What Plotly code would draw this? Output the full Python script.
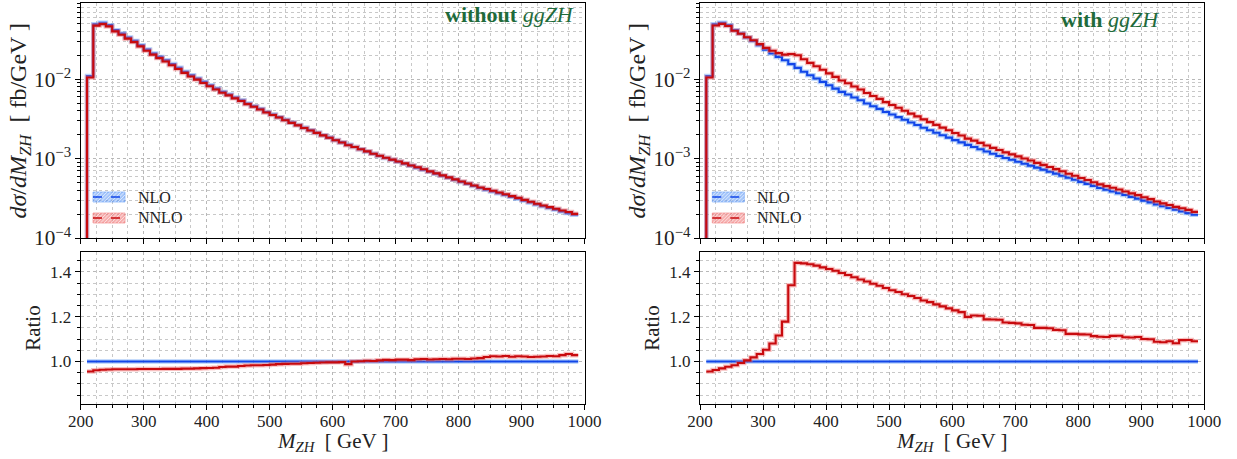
import plotly.graph_objects as go

# ---------------- data ----------------
bin_edges = list(range(210, 1000, 10))  # 10 GeV bins, 210 ... 990 GeV

# NLO dsigma/dM_ZH [fb/GeV] per bin (same NLO in both panels)
nlo = [
    1.10e-2, 4.93e-2, 5.13e-2, 4.80e-2, 4.15e-2, 3.77e-2, 3.36e-2, 3.04e-2, 2.68e-2, 2.36e-2,
    2.11e-2, 1.91e-2, 1.73e-2, 1.55e-2, 1.39e-2, 1.24e-2, 1.12e-2, 1.02e-2, 9.25e-3, 8.39e-3,
    7.62e-3, 6.92e-3, 6.41e-3, 5.88e-3, 5.43e-3, 4.94e-3, 4.57e-3, 4.23e-3, 3.87e-3, 3.59e-3,
    3.33e-3, 3.08e-3, 2.85e-3, 2.65e-3, 2.45e-3, 2.28e-3, 2.12e-3, 1.97e-3, 1.84e-3, 1.71e-3,
    1.60e-3, 1.49e-3, 1.40e-3, 1.31e-3, 1.23e-3, 1.15e-3, 1.08e-3, 1.02e-3, 9.66e-4, 9.12e-4,
    8.63e-4, 8.15e-4, 7.69e-4, 7.26e-4, 6.84e-4, 6.46e-4, 6.08e-4, 5.74e-4, 5.41e-4, 5.09e-4,
    4.81e-4, 4.53e-4, 4.27e-4, 4.06e-4, 3.85e-4, 3.66e-4, 3.48e-4, 3.30e-4, 3.13e-4, 2.96e-4,
    2.81e-4, 2.65e-4, 2.51e-4, 2.39e-4, 2.28e-4, 2.16e-4, 2.06e-4, 1.96e-4,
]

# NNLO / NLO, without ggZH
ratio_without = [
    0.955, 0.961, 0.963, 0.964, 0.965, 0.965, 0.965, 0.965, 0.966, 0.966,
    0.966, 0.966, 0.967, 0.967, 0.967, 0.968, 0.968, 0.969, 0.970, 0.971,
    0.972, 0.975, 0.977, 0.977, 0.980, 0.982, 0.983, 0.983, 0.984, 0.986,
    0.988, 0.989, 0.990, 0.990, 0.992, 0.993, 0.994, 0.995, 0.996, 0.996,
    0.997, 0.988, 1.000, 1.001, 1.003, 1.002, 1.005, 1.007, 1.006, 1.008,
    1.008, 1.006, 1.010, 1.011, 1.009, 1.010, 1.011, 1.010, 1.012, 1.012,
    1.011, 1.013, 1.015, 1.020, 1.023, 1.022, 1.024, 1.021, 1.023, 1.022,
    1.020, 1.021, 1.022, 1.024, 1.023, 1.028, 1.033, 1.028,
]

# NNLO / NLO, with ggZH
ratio_with = [
    0.955, 0.962, 0.969, 0.976, 0.983, 0.993, 1.005, 1.018, 1.033, 1.052,
    1.080, 1.116, 1.178, 1.340, 1.440, 1.438, 1.434, 1.428, 1.420, 1.413,
    1.405, 1.395, 1.386, 1.376, 1.366, 1.357, 1.347, 1.338, 1.328, 1.318,
    1.310, 1.300, 1.292, 1.283, 1.272, 1.265, 1.255, 1.246, 1.237, 1.228,
    1.220, 1.199, 1.205, 1.204, 1.188, 1.187, 1.186, 1.174, 1.172, 1.170,
    1.164, 1.163, 1.150, 1.150, 1.148, 1.141, 1.139, 1.123, 1.123, 1.121,
    1.120, 1.113, 1.110, 1.109, 1.114, 1.115, 1.108, 1.107, 1.109, 1.100,
    1.099, 1.088, 1.086, 1.090, 1.081, 1.095, 1.096, 1.090,
]

nnlo_without = [a * r for a, r in zip(nlo, ratio_without)]
nnlo_with = [a * r for a, r in zip(nlo, ratio_with)]
ratio_nlo = [a / a for a in nlo]

panel_labels = ["without", "with"]
legend_labels = ["NLO", "NNLO"]

# ---------------- styling / geometry ----------------
W, H = 1237, 459
BLUE = "#1246e8"
RED = "#c80a0e"
BLUE_BAND = "rgba(90,150,245,0.45)"
RED_BAND = "rgba(240,110,110,0.45)"
GREEN = "#1f6b3b"
FONT = "Liberation Serif"


def fx(px):
    return px / W


def fy(py):
    return 1 - py / H


panels = [
    dict(xl=80.7, xr=584.5, top="", bot="2", ytitle_x=19, rtitle_x=33),
    dict(xl=700.0, xr=1204.3, top="3", bot="4", ytitle_x=638, rtitle_x=652),
]
TOP_Y = (3.0, 238.0)
BOT_Y = (251.7, 404.0)

fig = go.Figure()


def step_traces(vals, color, band, ax, drop=False):
    xs = list(bin_edges)
    ys = list(vals) + [vals[-1]]
    if drop:
        xs = [bin_edges[0]] + xs
        ys = [1e-9] + ys
    out = []
    for c, w in ((band, 4.5), (color, 2.1)):
        out.append(go.Scatter(
            x=xs, y=ys, mode="lines",
            line=dict(shape="hv", color=c, width=w),
            xaxis="x" + ax, yaxis="y" + ax,
            showlegend=False, hoverinfo="skip",
        ))
    return out


for p, nn, rr in ((panels[0], nnlo_without, ratio_without), (panels[1], nnlo_with, ratio_with)):
    for t in step_traces(nlo, BLUE, BLUE_BAND, p["top"], drop=True):
        fig.add_trace(t)
    for t in step_traces(nn, RED, RED_BAND, p["top"], drop=True):
        fig.add_trace(t)
    for t in step_traces(ratio_nlo, BLUE, BLUE_BAND, p["bot"]):
        fig.add_trace(t)
    for t in step_traces(rr, RED, RED_BAND, p["bot"]):
        fig.add_trace(t)

common = dict(
    showline=True, linecolor="black", linewidth=1.3, mirror=True,
    ticks="outside", ticklen=5, tickwidth=1, tickcolor="black",
    showgrid=True, gridcolor="#b8b8b8", griddash="dot", gridwidth=1,
    zeroline=False, automargin=False,
    tickfont=dict(family=FONT, size=17, color="#222"),
)


def minor(dtick):
    return dict(ticks="outside", ticklen=2.5, tickwidth=1, tickcolor="black",
                showgrid=True, gridcolor="#c8c8c8", griddash="dot", gridwidth=1,
                dtick=dtick)


layout_axes = {}
for p in panels:
    dom = [fx(p["xl"]), fx(p["xr"])]
    t, b = p["top"], p["bot"]
    layout_axes["xaxis" + t] = dict(common, domain=dom, anchor="y" + t, range=[200, 1000],
                                    dtick=100, tick0=0, minor=minor(25), showticklabels=False)
    layout_axes["yaxis" + t] = dict(common, domain=[fy(TOP_Y[1]), fy(TOP_Y[0])], anchor="x" + t,
                                    type="log", range=[-4.0, -1.04], dtick=1,
                                    exponentformat="power", minor=minor("D1"))
    layout_axes["xaxis" + b] = dict(common, domain=dom, anchor="y" + b, range=[200, 1000],
                                    dtick=100, tick0=0, minor=minor(25), ticklabelstandoff=-4)
    layout_axes["yaxis" + b] = dict(common, domain=[fy(BOT_Y[1]), fy(BOT_Y[0])], anchor="x" + b,
                                    range=[0.81, 1.49], dtick=0.2, tick0=0, tickformat=".1f",
                                    minor=minor(0.05))

annotations = []
shapes = []
for i, p in enumerate(panels):
    # axis titles
    annotations.append(dict(
        x=fx(p["ytitle_x"]), y=fy((TOP_Y[0] + TOP_Y[1]) / 2), xref="paper", yref="paper",
        text="<i>dσ</i>/<i>dM</i><sub><i>ZH</i></sub>  [ fb/GeV ]", textangle=-90,
        showarrow=False, font=dict(family=FONT, size=24, color="#222"),
        xanchor="center", yanchor="middle"))
    annotations.append(dict(
        x=fx(p["rtitle_x"]), y=fy((BOT_Y[0] + BOT_Y[1]) / 2), xref="paper", yref="paper",
        text="Ratio", textangle=-90, showarrow=False,
        font=dict(family=FONT, size=21, color="#222"), xanchor="center", yanchor="middle"))
    annotations.append(dict(
        x=fx((p["xl"] + p["xr"]) / 2), y=fy(442), xref="paper", yref="paper",
        text="<i>M</i><sub><i>ZH</i></sub>  [ GeV ]", showarrow=False,
        font=dict(family=FONT, size=21, color="#222"), xanchor="center", yanchor="middle"))
    # panel label
    lab_x = [576, 1161][i]
    lab_y = [15, 19][i]
    annotations.append(dict(
        x=fx(lab_x), y=fy(lab_y), xref="paper", yref="paper",
        text="<b>%s</b> <i>ggZH</i>" % panel_labels[i], showarrow=False,
        font=dict(family=FONT, size=22, color=GREEN), xanchor="right", yanchor="middle"))
    # legend
    for j, (lab, col, band) in enumerate(((legend_labels[0], BLUE, "rgba(90,150,245,0.55)"),
                                          (legend_labels[1], RED, "rgba(240,120,120,0.6)"))):
        cy = [197, 218][j]
        x0, x1 = p["xl"] + 12.3, p["xl"] + 44.3
        y0, y1 = cy - 5, cy + 5
        shapes.append(dict(type="rect", xref="paper", yref="paper",
                           x0=fx(x0), x1=fx(x1), y0=fy(y1), y1=fy(y0),
                           fillcolor=band, line=dict(color=band, width=1)))
        path = ""
        k = x0 - 10
        while k < x1:
            a0, a1 = max(k, x0), min(k + 10, x1)
            ya = y1 - (a0 - k)
            yb = y1 - (a1 - k)
            path += "M%.4f,%.4f L%.4f,%.4f " % (fx(a0), fy(ya), fx(a1), fy(yb))
            k += 3.5
        shapes.append(dict(type="path", xref="paper", yref="paper", path=path,
                           line=dict(color="rgba(255,255,255,0.75)", width=0.8)))
        shapes.append(dict(type="line", xref="paper", yref="paper",
                           x0=fx(x0), x1=fx(x1), y0=fy(cy), y1=fy(cy),
                           line=dict(color=col, width=1.5, dash="dash")))
        annotations.append(dict(
            x=fx(p["xl"] + 55), y=fy(cy), xref="paper", yref="paper", text=lab,
            showarrow=False, font=dict(family=FONT, size=16, color="#222"),
            xanchor="left", yanchor="middle"))

fig.update_layout(
    width=W, height=H, margin=dict(l=0, r=0, t=0, b=0, autoexpand=False),
    paper_bgcolor="white", plot_bgcolor="white",
    showlegend=False, annotations=annotations, shapes=shapes,
    font=dict(family=FONT, size=16, color="#222"),
    **layout_axes,
)

fig.write_html("out.html")
